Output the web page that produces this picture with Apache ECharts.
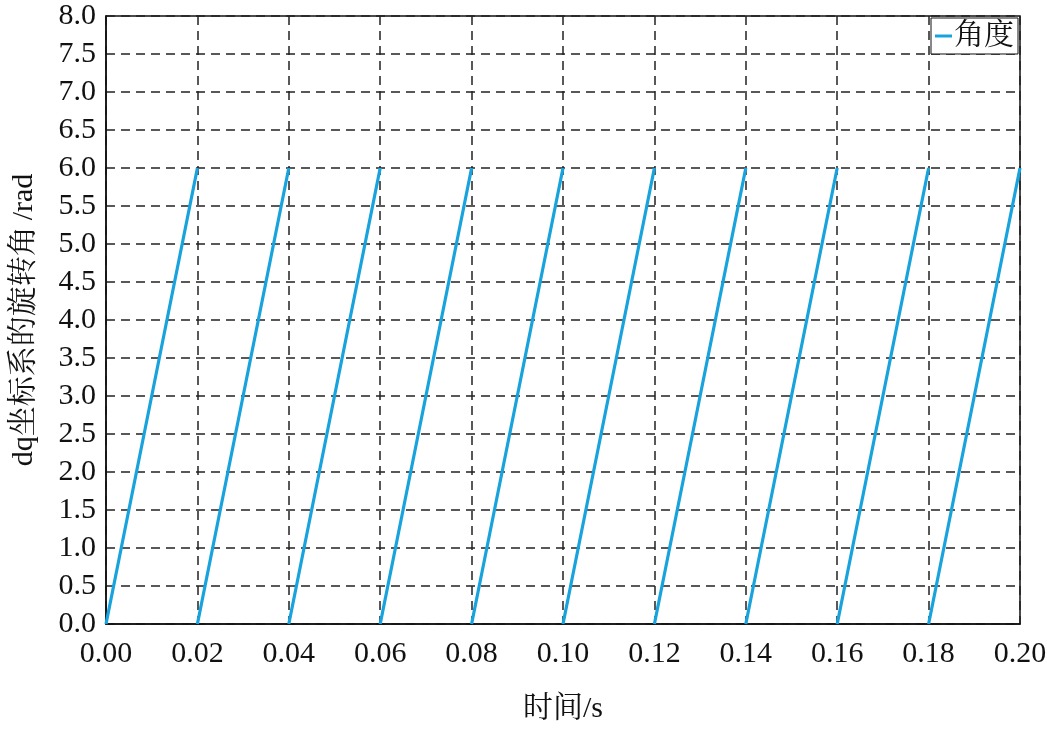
<!DOCTYPE html>
<html><head><meta charset="utf-8">
<script src="https://cdn.jsdelivr.net/npm/echarts@6/dist/echarts.min.js"></script>
<style>html,body{margin:0;padding:0;background:#fff}#c{width:1047px;height:729px}</style>
</head><body><div id="c"></div>
<script>
// sawtooth: each cycle starts at 0 rad and rises to 6.0 rad; null breaks between cycles
var timeValues  = [0.00,0.02,null, 0.02,0.04,null, 0.04,0.06,null, 0.06,0.08,null, 0.08,0.10,null, 0.10,0.12,null, 0.12,0.14,null, 0.14,0.16,null, 0.16,0.18,null, 0.18,0.20];
var angleValues = [0.0,6.0,null, 0.0,6.0,null, 0.0,6.0,null, 0.0,6.0,null, 0.0,6.0,null, 0.0,6.0,null, 0.0,6.0,null, 0.0,6.0,null, 0.0,6.0,null, 0.0,6.0];
var seriesName = '角度';
var xName = '时间/s';
var yName = 'dq坐标系的旋转角\u2009/rad';

var data = [];
for (var i = 0; i < timeValues.length; i++) {
  if (timeValues[i] === null) { data.push([timeValues[i-1], '-']); }
  else data.push([timeValues[i], angleValues[i]]);
}
var font = "'Liberation Serif','Times New Roman','Noto Serif CJK SC','Noto Sans CJK SC',serif";
var chart = echarts.init(document.getElementById('c'));
chart.setOption({
  backgroundColor: '#fff',
  animation: false,
  grid: {left: 106, right: 27, top: 16, bottom: 105, show: true, borderColor: '#111', borderWidth: 1.5,
         containLabel: false, outerBoundsMode: 'none'},
  legend: {
    top: 18, right: 29, padding: [3, 4, 3, 4],
    borderColor: '#111', borderWidth: 1, backgroundColor: '#fff',
    itemWidth: 17, itemHeight: 3, itemGap: 4,
    icon: 'rect',
    textStyle: {fontFamily: font, fontSize: 30, color: '#111', padding: [0,0,0,-3]},
    data: [seriesName]
  },
  xAxis: {
    type: 'value', min: 0, max: 0.2, interval: 0.02,
    name: xName, nameLocation: 'middle', nameGap: 70,
    nameTextStyle: {fontFamily: font, fontSize: 30, color: '#111'},
    axisLine: {show: true, onZero: false, lineStyle: {color: '#111', width: 1.5}},
    axisTick: {show: false},
    axisLabel: {fontFamily: font, fontSize: 30, color: '#111', margin: 15,
      formatter: function (v) { return v.toFixed(2); }},
    splitLine: {show: true, lineStyle: {color: '#222', type: [9, 6], width: 1.5}}
  },
  yAxis: {
    type: 'value', min: 0, max: 8, interval: 0.5,
    name: yName, nameLocation: 'middle', nameGap: 67,
    nameTextStyle: {fontFamily: font, fontSize: 30, color: '#111'},
    axisLine: {show: true, lineStyle: {color: '#111', width: 1.5}},
    axisTick: {show: false},
    axisLabel: {fontFamily: font, fontSize: 30, color: '#111', margin: 10,
      formatter: function (v) { return v.toFixed(1); }},
    splitLine: {show: true, lineStyle: {color: '#222', type: [9, 6], width: 1.5}}
  },
  series: [{
    name: seriesName, type: 'line', data: data, showSymbol: false, connectNulls: false,
    lineStyle: {color: '#19a3dd', width: 3.2}, itemStyle: {color: '#19a3dd'}
  }]
});
</script></body></html>
